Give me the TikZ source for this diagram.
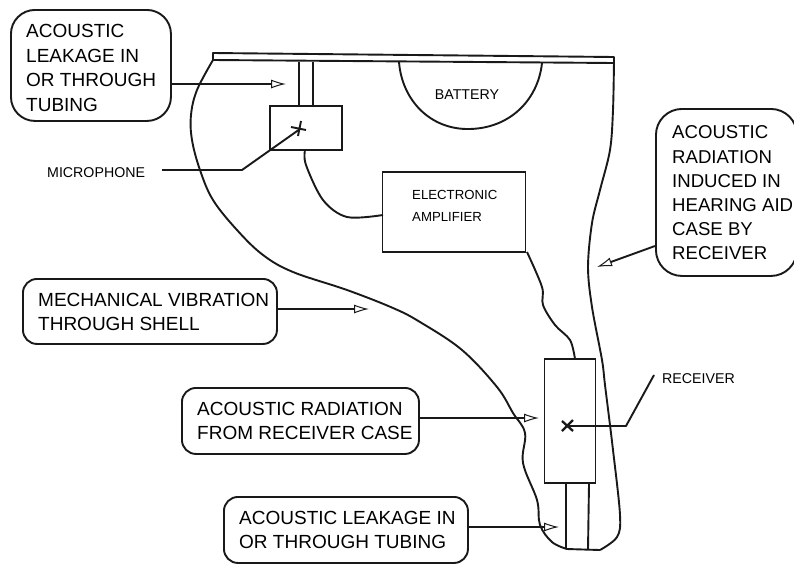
\documentclass[tikz,border=0pt]{standalone}
\usepackage{fontspec}
\setmainfont{Liberation Sans}
\usetikzlibrary{arrows.meta}
\tikzset{
 ln/.style={line width=1.9pt,black!90,line join=round},
 callout/.style={draw=black!90,line width=1.9pt,rounded corners=#1,inner sep=0pt,anchor=north west},
 callout/.default=14pt,
 calltext/.style={align=left,inner sep=0pt,anchor=west,font=\fontsize{19}{24.4}\selectfont},
 lab/.style={font=\fontsize{14.2}{22}\selectfont,align=left,inner sep=0pt},
 box/.style={draw=black!90,line width=1.9pt,inner sep=0pt},
 hollow/.style={-{Latex[open,fill=white,length=15pt,width=9pt,line width=1pt]},ln},
}
\begin{document}
\begin{tikzpicture}[x=1pt,y=-1pt]
\useasboundingbox (0,0) rectangle (794,563);
\fill[white] (0,0) rectangle (794,563);
% shell
\draw[ln] plot[smooth,tension=0.6] coordinates {(213,60) (197,90) (191,115) (192,140) (200,170) (213,200) (237,230) (263,255) (293,272) (347,290) (393,308) (420,322) (462,350) (497,387) (513,413) (525,433) (523,463) (537,500) (540,525) (552,542) (567,549)} -- (600,550);
\draw[ln] plot[smooth,tension=0.55] coordinates {(600,550) (617,537) (620,515) (613,450) (605,385) (602,360) (592,307) (588,267) (592,223) (600,190) (610,150) (613,110) (614,60)};
\draw[ln] (213,53) -- (614,57) -- (614,63) -- (213,60) -- cycle;
% battery
\draw[ln] (399,62) .. controls (402,100) and (430,130) .. (470,129) .. controls (510,128) and (538,100) .. (542,63);
\node[lab] (bat) at (467,95) {BATTERY};
% mic
\node[box,minimum width=72pt,minimum height=44pt] (mic) at (306,128) {};
\draw[ln] (299,62) -- (299,106) (313,62) -- (313,106);
\coordinate (mx) at (300,129);
\draw[ln] (291,127) -- (306,130) (301,121) -- (298,136);
\node[lab,anchor=west] (miclab) at (47,173) {MICROPHONE};
\coordinate (mb) at (242,170);
\draw[ln] (162,170) -- (mb) -- (mx);
% amp
\node[box,minimum width=143pt,minimum height=80pt] (amp) at (454,212) {};
\node[lab,anchor=north west,font=\fontsize{13.2}{22}\selectfont] (amplab) at (412,190) {ELECTRONIC\\AMPLIFIER};
\draw[ln] plot[smooth,tension=0.55] coordinates {(305,150) (306,165) (323,200) (347,217) (383,215)};
\draw[ln] plot[smooth,tension=0.55] coordinates {(527,252) (542,287) (543,305) (555,325) (570,340) (575,359)};
% receiver
\node[box,minimum width=51pt,minimum height=124pt] (rec) at (570,421) {};
\draw[ln] (566,484) -- (566,549) (589,484) -- (588,549);
\draw[ln,line width=2.3pt] (562,421) -- (573,431) (573,420) -- (562,431);
\coordinate (rk) at (626,426);
\coordinate (rt) at (654,375);
\coordinate (rx) at (568,426);
\draw[ln] (rx) -- (rk) -- (rt);
\node[lab,anchor=west] (reclab) at (662,379) {RECEIVER};
% callouts
\node[callout=24pt,minimum width=160pt,minimum height=111pt] (c1) at (10,9) {};
\node[calltext] (t1) at (26,68) {ACOUSTIC\\LEAKAGE IN\\OR THROUGH\\TUBING};
\coordinate (a1) at (286,84);
\draw[hollow] (c1.east|-a1) -- (a1);
\node[callout=26pt,minimum width=141pt,minimum height=167pt] (c2) at (655,108) {};
\node[calltext,font=\fontsize{18.6}{24.2}\selectfont] (t2) at (672,193) {ACOUSTIC\\RADIATION\\INDUCED IN\\HEARING AID\\CASE BY\\RECEIVER};
\coordinate (a2) at (597,267);
\coordinate (s2) at (655,246);
\draw[hollow] (s2) -- (a2);
\node[callout,minimum width=254pt,minimum height=65pt] (c3) at (22,278) {};
\node[calltext] (t3) at (38,312) {MECHANICAL VIBRATION\\THROUGH SHELL};
\coordinate (a3) at (369,309);
\draw[hollow] (c3.east|-a3) -- (a3);
\node[callout,minimum width=237pt,minimum height=66pt] (c4) at (181,387) {};
\node[calltext] (t4) at (197,421) {ACOUSTIC RADIATION\\FROM RECEIVER CASE};
\coordinate (a4) at (539,418);
\draw[hollow] (c4.east|-a4) -- (a4);
\node[callout,minimum width=244pt,minimum height=66pt] (c5) at (223,496) {};
\node[calltext] (t5) at (239,530) {ACOUSTIC LEAKAGE IN\\OR THROUGH TUBING};
\coordinate (a5) at (559,527);
\draw[hollow] (c5.east|-a5) -- (a5);
\end{tikzpicture}
\end{document}
